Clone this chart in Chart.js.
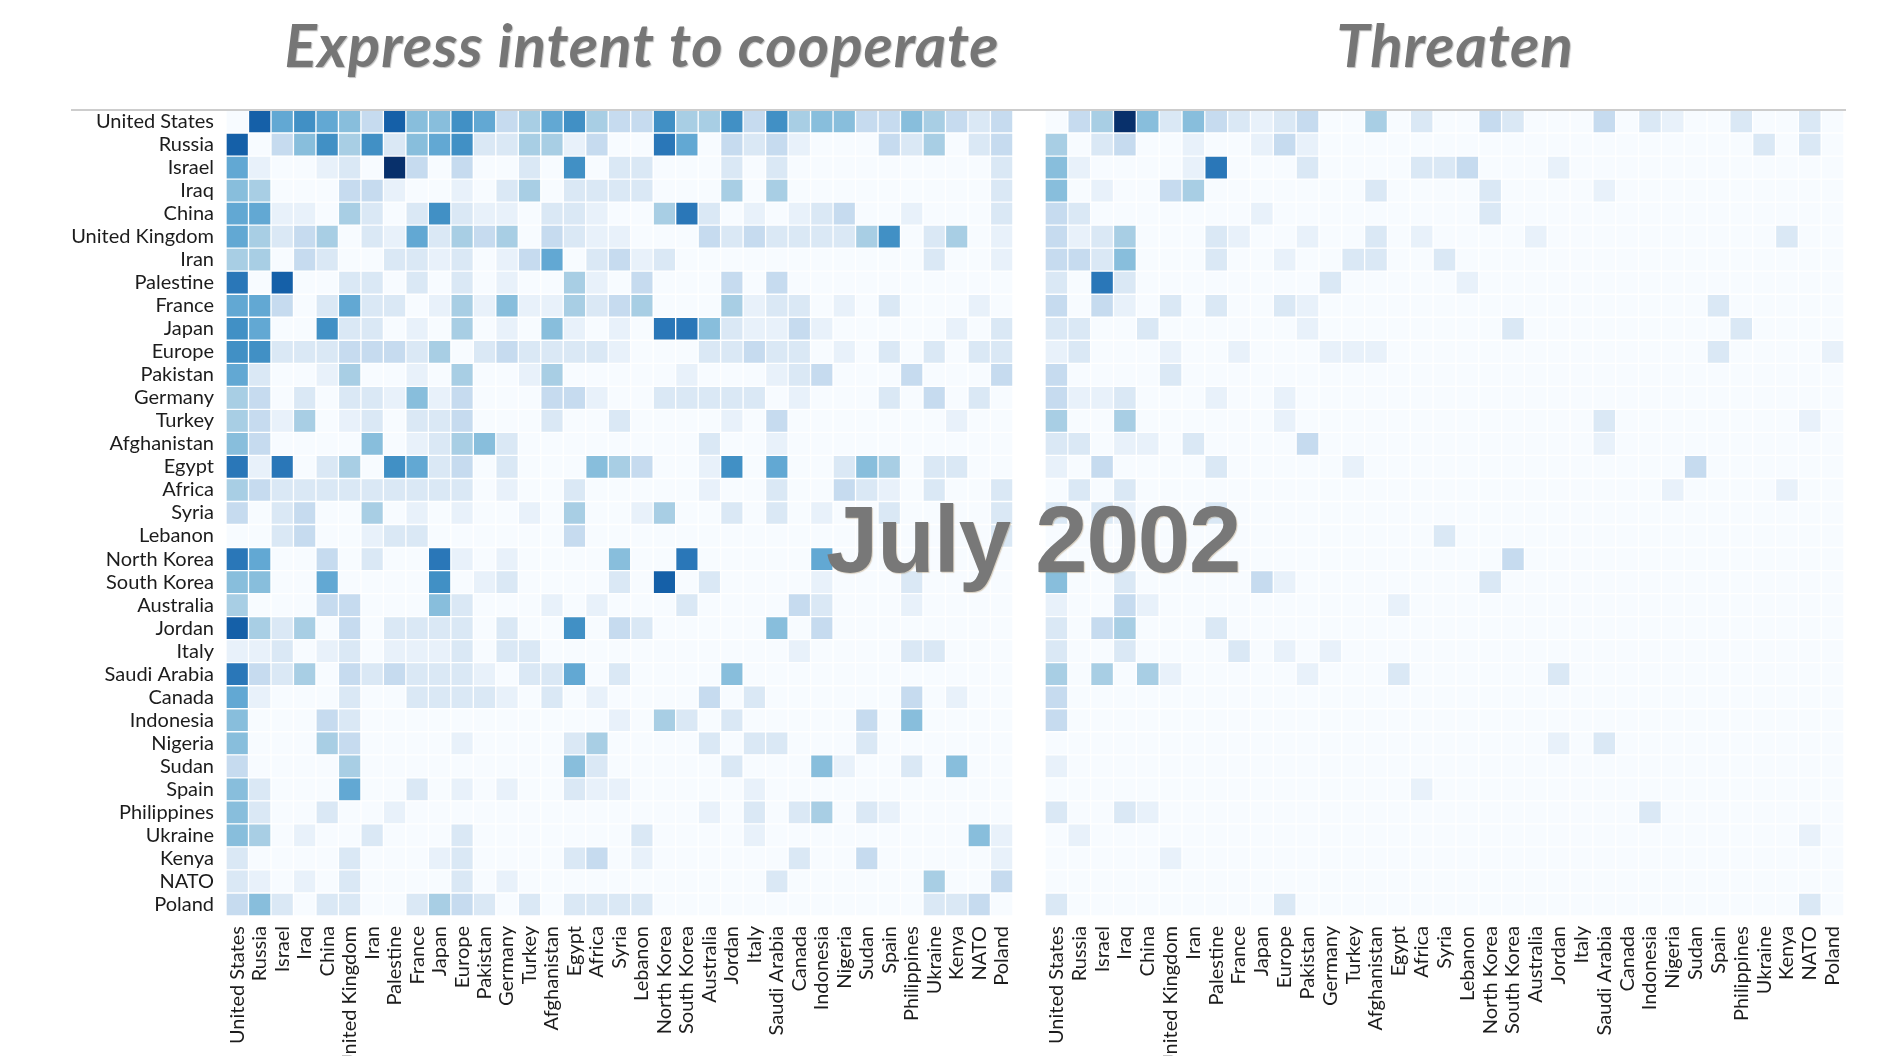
<!DOCTYPE html>
<html>
<head>
<meta charset="utf-8">
<title>Express intent to cooperate / Threaten</title>
<script src="https://cdn.jsdelivr.net/npm/chart.js@4.4.0/dist/chart.umd.min.js"></script>
<style>
  body { margin: 0; background: #fff; width: 1889px; height: 1056px; overflow: hidden; position: relative; }
  canvas { position: absolute; top: 0; }
  .title { position: absolute; top: 14px; width: 800px; text-align: center; font: italic 700 60px Lato, sans-serif; line-height: 1; letter-spacing: 1px; color: #767676; text-shadow: 1px 1px 1px rgba(0, 0, 0, 0.25); }
  .rule { position: absolute; left: 71px; top: 109px; width: 1775px; height: 2px; background: #cdcdcd; }
  #month { position: absolute; left: 826px; top: 493px; font: 700 94px "Liberation Sans", Arial, sans-serif; line-height: 1; letter-spacing: -1px; color: #787878; text-shadow: 1px 1px 1px rgba(140, 100, 40, 0.3); }
</style>
</head>
<body>
<canvas id="coop" width="1036" height="1056" style="left:0"></canvas>
<canvas id="threat" width="853" height="1056" style="left:1036px"></canvas>
<div class="rule"></div>
<div class="title" style="left:242px">Express intent to cooperate</div>
<div class="title" style="left:1055px">Threaten</div>
<div id="month">July 2002</div>
<script>
// actors, same order on rows (source) and columns (target)
var countries = [
  "United States", "Russia", "Israel", "Iraq", "China", "United Kingdom", "Iran",
  "Palestine", "France", "Japan", "Europe", "Pakistan", "Germany", "Turkey",
  "Afghanistan", "Egypt", "Africa", "Syria", "Lebanon", "North Korea", "South Korea",
  "Australia", "Jordan", "Italy", "Saudi Arabia", "Canada", "Indonesia", "Nigeria",
  "Sudan", "Spain", "Philippines", "Ukraine", "Kenya", "NATO", "Poland"
];

// shade per level, 0 = no events ... a = most events
var levelColors = [
  "#f7fbff", "#e8f1fa", "#dae8f5", "#c6dbef", "#a8cee4", "#88bedc",
  "#62a8d3", "#4190c5", "#2a77b8", "#1560a8", "#08306b"
];

// one string per row, one hex digit per column
var cooperateRows = [
  "09676539557634674337447374553354323",
  "90357472567224413008603231000324023",
  "6100120a303002070220002020000000002",
  "54000331001024022220004040000000002",
  "66110420272110221004820101230010002",
  "64234021624340321100032322224702401",
  "44032002212013602312000000000002001",
  "80900220202010041030003030000000000",
  "66302622014151142340004122010200010",
  "76007220104010510108852113100000102",
  "77222333240232222100022322010202022",
  "62001400104001400000100012300030003",
  "43020221513000331002222201000203020",
  "43140120223000200200001030000000100",
  "53000050124520000000020010000000000",
  "81802407623020005430017060025402200",
  "43222222222010020000010020032102002",
  "30230040101001040014002020100200002",
  "00230012200000030000000000000000002",
  "86003020081010000500800000600000000",
  "55006000070120000209020000100020000",
  "40003300052000101000200003200010000",
  "94240302222020070320000050300000000",
  "11201201112022000000000001000022000",
  "83240323222102260200005000000000000",
  "61000200222210201000030200000030100",
  "50003200000000000104202000003050000",
  "50004300001000024000020220002000000",
  "30000400000000052000002000510020500",
  "52000600201010021100000100000000000",
  "52002001000000000000010202402100000",
  "54010020002000000020000100000000051",
  "20000200012000023010000002003000001",
  "21010200002010000000000020000004003",
  "35202200243202022220000000000002230"
];

var threatenRows = [
  "034a5253212300402003200030210020020",
  "40230010013100000000000000000002020",
  "51000018000200002230001000000000000",
  "50100340000000200002000010000000000",
  "32000000010000000002000000000000000",
  "31240002100100201000010000000000200",
  "33250002001002200200000000000000000",
  "20820000000020000010000000000000000",
  "30310202002100000000000000000200000",
  "22002000000100000000200000000020000",
  "12000100100011100000000000000200001",
  "30000200000000000000000000000000000",
  "31120001001000000000000000000000000",
  "40040000001000000000000020000000010",
  "22011020000300000000000010000000000",
  "10300002000001000000000000003000000",
  "02020000000000000000000000010000100",
  "20210002000000000000000000000000000",
  "00000000000000000200000000000000000",
  "00000000000000000000300000000000000",
  "50020000031000000002000000000000000",
  "10031000000000010000000000000000000",
  "20340002000000000000000000000000000",
  "20020000201010000000000000000000000",
  "40404100000100020000002000000000000",
  "30000000000000000000000000000000000",
  "30000000000000000000000000000000000",
  "00000000000000000000001020000000000",
  "10000000000000000000000000000000000",
  "00000000000000001000000000000000000",
  "20021000000000000000000000200000000",
  "01000000000000000000000000000000010",
  "00000100000000000000000000000000000",
  "00000000000000000000000000000000000",
  "20000000002000000000000000000000020"
];

var labelFont = { family: "Lato", size: 20 };
var labelColor = "#1c1c1c";

// each column is a dataset of unit bars stacked along x, coloured per row
function buildDatasets(rows) {
  var datasets = [];
  for (var c = 0; c < countries.length; c++) {
    var colors = [];
    var ones = [];
    for (var r = 0; r < countries.length; r++) {
      var row = rows[r].padEnd(countries.length, "0");
      var level = parseInt(row.charAt(c), 16);
      colors.push(levelColors[level] || levelColors[0]);
      ones.push(1);
    }
    datasets.push({
      label: countries[c],
      data: ones,
      backgroundColor: colors,
      borderColor: "#ffffff",
      borderWidth: 1,
      borderSkipped: false,
      barPercentage: 1,
      categoryPercentage: 1
    });
  }
  return datasets;
}

function drawMatrix(id, rows, showRowLabels, padding) {
  var ctx = document.getElementById(id);
  var rowAxisWidth = showRowLabels ? 226 : 0;
  return new Chart(ctx, {
    type: "bar",
    data: { labels: countries, datasets: buildDatasets(rows) },
    options: {
      indexAxis: "y",
      responsive: false,
      devicePixelRatio: 1,
      animation: false,
      events: [],
      layout: { padding: padding },
      plugins: { legend: { display: false }, tooltip: { enabled: false } },
      scales: {
        x: { type: "linear", stacked: true, min: 0, max: countries.length, display: false },
        y: {
          type: "category",
          stacked: true,
          display: showRowLabels,
          grid: { display: false, drawTicks: false },
          border: { display: false },
          ticks: { autoSkip: false, padding: 12, font: labelFont, color: labelColor },
          afterFit: function(scale) { scale.width = rowAxisWidth; }
        },
        cols: {
          type: "category",
          axis: "x",
          position: "bottom",
          labels: countries,
          offset: true,
          grid: { display: false, drawTicks: false },
          border: { display: false },
          ticks: { autoSkip: false, minRotation: 90, maxRotation: 90, padding: 10, font: labelFont, color: labelColor },
          afterFit: function(scale) { scale.height = 140; }
        }
      }
    }
  });
}

drawMatrix("coop", cooperateRows, true, { top: 110, right: 11, left: 0, bottom: 0 });
drawMatrix("threat", threatenRows, false, { top: 110, right: 45, left: 9, bottom: 0 });
</script>
</body>
</html>
